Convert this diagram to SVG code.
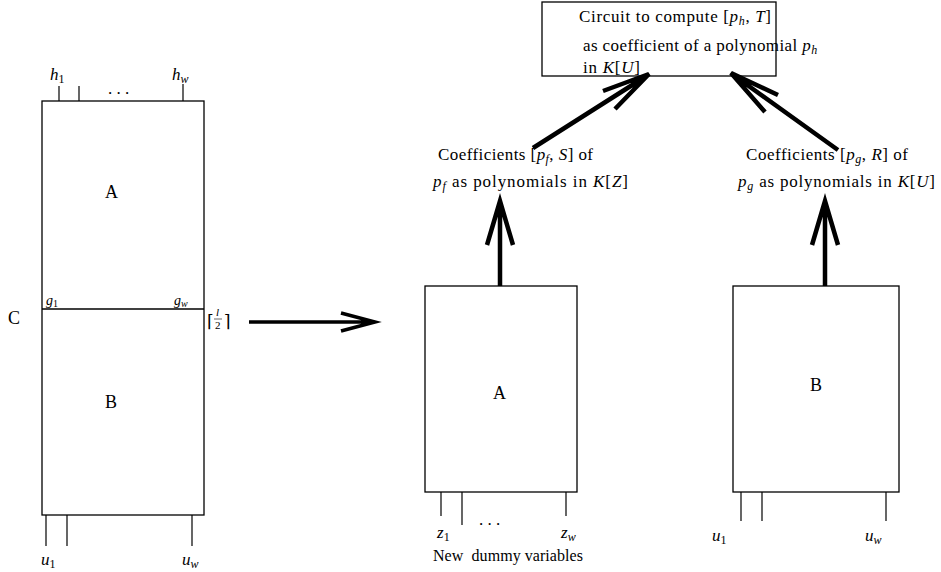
<svg xmlns="http://www.w3.org/2000/svg" width="941" height="572" viewBox="0 0 941 572">
<style>
text{font-family:"Liberation Serif","DejaVu Serif",serif;font-size:17px;fill:#000}
.m{font-style:italic}
.s{font-size:12px;font-style:italic}
.n{font-size:12px}
.big{font-size:18px}
.box{fill:none;stroke:#000;stroke-width:1.3}
.stub{stroke:#000;stroke-width:1.2}
.thick{fill:none;stroke:#000;stroke-width:4.5;stroke-linecap:butt}
.arr{fill:none;stroke:#000;stroke-width:3.5}
</style>
<rect width="941" height="572" fill="#fff"/>
<g id="circuitC">
<rect class="box" x="42" y="101" width="162" height="414"/>
<line class="box" x1="42" y1="309" x2="204" y2="309"/>
<line class="stub" x1="59" y1="86" x2="59" y2="101"/>
<line class="stub" x1="79" y1="86" x2="79" y2="101"/>
<line class="stub" x1="183" y1="84" x2="183" y2="101"/>
<line class="stub" x1="46" y1="515" x2="46" y2="546"/>
<line class="stub" x1="67" y1="515" x2="67" y2="546"/>
<line class="stub" x1="192" y1="515" x2="192" y2="546"/>
<text x="50" y="80"><tspan class="m">h</tspan><tspan class="n" dy="3">1</tspan></text>
<text x="172" y="80"><tspan class="m">h</tspan><tspan class="s" dy="3">w</tspan></text>
<text x="108" y="94">. . .</text>
<text class="big" x="8" y="324">C</text>
<text class="big" x="105" y="198">A</text>
<text class="big" x="105" y="408">B</text>
<text x="46" y="305" style="font-size:14px"><tspan class="m">g</tspan><tspan font-size="10" dy="2">1</tspan></text>
<text x="174" y="305" style="font-size:14px"><tspan class="m">g</tspan><tspan class="m" font-size="10" dy="2">w</tspan></text>
<text x="207" y="327" style="font-size:17px">⌈</text>
<text x="216" y="316" style="font-size:11px;font-style:italic">l</text>
<line x1="214" y1="319" x2="222" y2="319" stroke="#000" stroke-width="0.6"/>
<text x="215" y="329" style="font-size:11px">2</text>
<text x="224" y="327" style="font-size:17px">⌉</text>
<text x="41" y="565"><tspan class="m">u</tspan><tspan class="n" dy="3">1</tspan></text>
<text x="182" y="565"><tspan class="m">u</tspan><tspan class="s" dy="3">w</tspan></text>
</g>
<g id="boxA">
<rect class="box" x="425" y="286" width="152" height="206"/>
<text class="big" x="493" y="399">A</text>
<line class="stub" x1="441" y1="492" x2="441" y2="516"/>
<line class="stub" x1="462" y1="492" x2="462" y2="525"/>
<line class="stub" x1="566" y1="492" x2="566" y2="516"/>
<text x="479" y="525">. . .</text>
<text x="437" y="538"><tspan class="m">z</tspan><tspan class="n" dy="3">1</tspan></text>
<text x="561" y="538"><tspan class="m">z</tspan><tspan class="s" dy="3">w</tspan></text>
<text x="433" y="561" style="font-size:16px" textLength="150" lengthAdjust="spacing" xml:space="preserve">New  dummy variables</text>
</g>
<g id="boxB">
<rect class="box" x="733" y="286" width="166" height="206"/>
<text class="big" x="810" y="391">B</text>
<line class="stub" x1="741" y1="492" x2="741" y2="521"/>
<line class="stub" x1="762" y1="492" x2="762" y2="521"/>
<line class="stub" x1="886" y1="492" x2="886" y2="521"/>
<text x="712" y="541"><tspan class="m">u</tspan><tspan class="n" dy="3">1</tspan></text>
<text x="865" y="541"><tspan class="m">u</tspan><tspan class="s" dy="3">w</tspan></text>
</g>
<g id="topBox">
<rect class="box" x="542" y="2" width="234" height="74"/>
<text x="579" y="22" textLength="192" lengthAdjust="spacing">Circuit to compute [<tspan class="m">p</tspan><tspan class="s" dy="3">h</tspan><tspan dy="-3">, </tspan><tspan class="m">T</tspan>]</text>
<text x="583" y="51" letter-spacing="0.4">as coefficient of a polynomial <tspan class="m">p</tspan><tspan class="s" dy="3">h</tspan></text>
<text x="583" y="73" textLength="57" lengthAdjust="spacing">in <tspan class="m">K</tspan>[<tspan class="m">U</tspan>]</text>
</g>
<g id="coefF">
<text x="438" y="160" textLength="155" lengthAdjust="spacing">Coefficients [<tspan class="m">p</tspan><tspan class="s" dy="3">f</tspan><tspan dy="-3">, </tspan><tspan class="m">S</tspan>] of</text>
<text x="433" y="187" textLength="195" lengthAdjust="spacing"><tspan class="m">p</tspan><tspan class="s" dy="3">f</tspan><tspan dy="-3"> as polynomials in </tspan><tspan class="m">K</tspan>[<tspan class="m">Z</tspan>]</text>
</g>
<g id="coefG">
<text x="746" y="160" textLength="162" lengthAdjust="spacing">Coefficients [<tspan class="m">p</tspan><tspan class="s" dy="3">g</tspan><tspan dy="-3">, </tspan><tspan class="m">R</tspan>] of</text>
<text x="738" y="187" textLength="197" lengthAdjust="spacing"><tspan class="m">p</tspan><tspan class="s" dy="3">g</tspan><tspan dy="-3"> as polynomials in </tspan><tspan class="m">K</tspan>[<tspan class="m">U</tspan>]</text>
</g>
<g id="connectors">
<path class="arr" d="M249 322 H375 M341 313 L375 322 L341 331"/>
<path class="thick" d="M500 286 V202 M487 245 L500 201 L513 245"/>
<path class="thick" d="M825 286 V202 M812 245 L825 201 L838 245"/>
<path class="thick" d="M533 148 L648 75 M603 91 L649 74 L615 109"/>
<path class="thick" d="M838 150 L732 74 M778 95 L731 73 L765 112"/>
</g>
</svg>
